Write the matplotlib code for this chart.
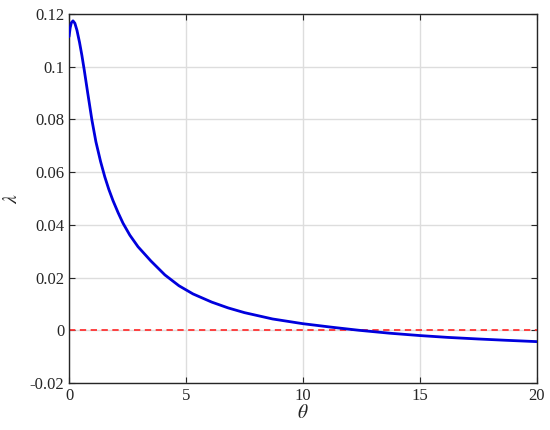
import matplotlib
matplotlib.use("Agg")
import matplotlib.pyplot as plt

theta = [0.0, 0.05, 0.1, 0.17, 0.25, 0.34, 0.45, 0.55, 0.65, 0.8, 0.98, 1.15,
         1.35, 1.53, 1.7, 1.88, 2.1, 2.31, 2.6, 2.95, 3.5, 4.1, 4.7, 5.3, 6.1,
         6.8, 7.5, 8.7, 10.0, 11.2, 12.4, 13.7, 15.0, 16.2, 17.5, 18.7, 20.0]
lam = [0.1114, 0.1148, 0.1167, 0.1174, 0.1165, 0.1138, 0.1092, 0.1043, 0.0988,
       0.0900, 0.0797, 0.0715, 0.0640, 0.0582, 0.0535, 0.0492, 0.0446, 0.0406,
       0.0361, 0.0317, 0.0263, 0.0210, 0.0169, 0.0138, 0.0107, 0.0085, 0.0067,
       0.0043, 0.0025, 0.0012, 0.0, -0.0011, -0.0020, -0.0027, -0.0033,
       -0.0038, -0.0043]
ref_x = [0, 20]
ref_y = [0, 0]
xticks = [0, 5, 10, 15, 20]
yticks = [-0.02, 0, 0.02, 0.04, 0.06, 0.08, 0.1, 0.12]
ytick_labels = ["-0.02", "0", "0.02", "0.04", "0.06", "0.08", "0.1", "0.12"]

plt.rcParams['font.family'] = ['Liberation Serif', 'DejaVu Serif']
plt.rcParams['mathtext.fontset'] = 'stix'

fig = plt.figure(figsize=(5.5, 4.3), dpi=100)
ax = fig.add_axes([0.1255, 0.1093, 0.8505, 0.8581])

ax.plot(ref_x, ref_y, color='#ff3333', linestyle=(0, (3.5, 2.5)), linewidth=1.3, zorder=2)
ax.plot(theta, lam, color='#0000dd', linewidth=2.0, zorder=3,
        solid_joinstyle='round', solid_capstyle='round')

ax.set_xlim(0, 20)
ax.set_ylim(-0.02, 0.12)
ax.set_xticks(xticks)
ax.set_xticklabels([str(t) for t in xticks])
ax.set_yticks(yticks)
ax.set_yticklabels(ytick_labels)
ax.grid(True, color='#dddddd', linewidth=1.0)
ax.set_axisbelow(True)
ax.tick_params(direction='in', top=True, right=True, length=4, width=0.8,
               labelsize=12, colors='#262626')
for s in ax.spines.values():
    s.set_linewidth(1.0)
    s.set_color('#262626')

ax.set_xlabel(r'$\theta$', fontsize=14, labelpad=0, color='#262626')
ax.set_ylabel(r'$\lambda$', fontsize=14, labelpad=6, color='#262626')

fig.savefig('out.png', dpi=100)
